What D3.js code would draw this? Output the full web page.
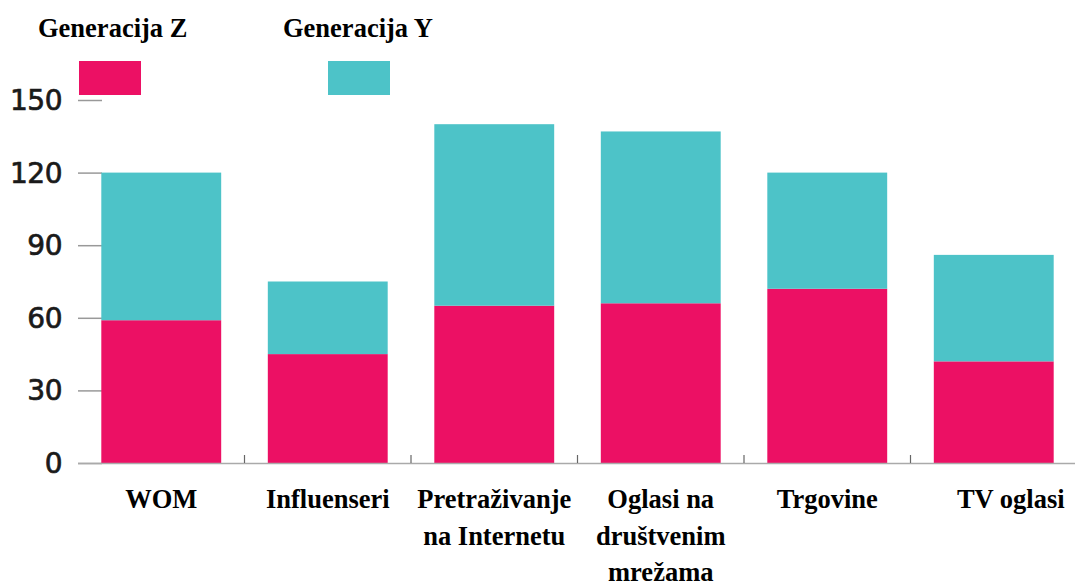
<!DOCTYPE html>
<html><head><meta charset="utf-8">
<script src="https://cdn.jsdelivr.net/npm/d3@7"></script>
<style>body{margin:0;background:#fff}</style>
</head><body>
<svg id="c" width="1075" height="587"></svg>
<script>
const categories = [["WOM"],["Influenseri"],["Pretraživanje","na Internetu"],["Oglasi na","društvenim","mrežama"],["Trgovine"],["TV oglasi"]];
const genZ = [59, 45, 65, 66, 72, 42];
const genY = [61, 30, 75, 71, 48, 44];
const yTicks = [0, 30, 60, 90, 120, 150];
const seriesNames = ["Generacija Z", "Generacija Y"];
const colors = ["#EC1064", "#4DC3C8"];

const svg = d3.select("#c");
const x = d3.scaleBand().domain(d3.range(categories.length)).range([78, 1077]).paddingInner(0.28).paddingOuter(0.14);
const y = d3.scaleLinear().domain([0, 150]).range([463, 100]);

// y ticks (inward gray lines, no domain)
const ya = svg.append("g").attr("transform","translate(78,0)")
  .call(d3.axisRight(y).tickValues(yTicks).tickSize(24).tickFormat(""));
ya.select(".domain").remove();
ya.selectAll("line").attr("stroke","#999").attr("stroke-width",1.5);
svg.append("g").selectAll("text").data(yTicks).join("text")
  .attr("x", 62).attr("y", d => y(d)).attr("dy","0.36em").attr("text-anchor","end")
  .attr("font-family","'DejaVu Sans', sans-serif").attr("font-size",28).attr("fill","#1a1a1a")
  .attr("stroke","#1a1a1a").attr("stroke-width",0.7)
  .attr("letter-spacing", -0.5)
  .text(d => d);

// stacked data
const data = categories.map((c,i)=>({i, z: genZ[i], yv: genY[i]}));
const g = svg.append("g");
g.selectAll("rect.z").data(data).join("rect").attr("class","z")
  .attr("x", d=>x(d.i)).attr("width", x.bandwidth())
  .attr("y", d=>y(d.z)).attr("height", d=>y(0)-y(d.z)).attr("fill", colors[0]);
g.selectAll("rect.y").data(data).join("rect").attr("class","y")
  .attr("x", d=>x(d.i)).attr("width", x.bandwidth())
  .attr("y", d=>y(d.z+d.yv)).attr("height", d=>y(d.z)-y(d.z+d.yv)).attr("fill", colors[1]);

// baseline and ticks between bars
svg.append("line").attr("x1",78).attr("x2",1075).attr("y1",y(0)+0.5).attr("y2",y(0)+0.5)
  .attr("stroke","#aaa").attr("stroke-width",1.5);
svg.append("g").selectAll("line").data(d3.range(1, categories.length)).join("line")
  .attr("x1", i => x(i) - x.step()*x.paddingInner()/2).attr("x2", i => x(i) - x.step()*x.paddingInner()/2)
  .attr("y1", y(0)-8).attr("y2", y(0)).attr("stroke","#666").attr("stroke-width",1.2);

// x labels
const lab = svg.append("g").attr("font-family","'Liberation Serif', 'Times New Roman', serif")
  .attr("font-weight","bold").attr("font-size",26.5).attr("fill","#000");
categories.forEach((lines,i)=>{
  const cx = x(i) + x.bandwidth()/2 + (i===categories.length-1 ? 17 : 0);
  const t = lab.append("text").attr("text-anchor","middle");
  lines.forEach((l,k)=>t.append("tspan").attr("x",cx).attr("y",508 + k*36.5).text(l));
});

// legend
const legX = [38, 283], swX = [79, 328];
seriesNames.forEach((n,k)=>{
  svg.append("text").attr("x",legX[k]).attr("y",37)
    .attr("font-family","'Liberation Serif', 'Times New Roman', serif").attr("font-weight","bold")
    .attr("font-size",26.5).attr("fill","#000").text(n);
  svg.append("rect").attr("x",swX[k]).attr("y",61).attr("width",62).attr("height",34).attr("fill",colors[k]);
});
</script>
</body></html>
